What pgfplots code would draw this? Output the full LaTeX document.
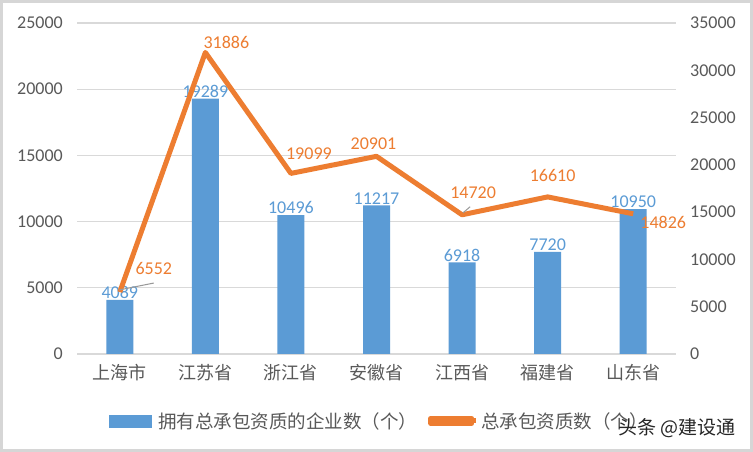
\documentclass[border=0pt]{standalone}
\usepackage{pgfplots}
\pgfplotsset{compat=1.18}
\usepackage{pgfplotstable}
\usepackage{fontspec}
\setmainfont{Carlito}
\newfontfamily\cjk{Noto Sans CJK SC}
\definecolor{barblue}{HTML}{5B9BD5}
\definecolor{lineorange}{HTML}{ED7D31}
\definecolor{gridgray}{HTML}{D9D9D9}
\definecolor{textgray}{HTML}{595959}
\definecolor{framegray}{HTML}{D6D6D6}

\pgfplotstableread{
x bars
0 4089
1 19289
2 10496
3 11217
4 6918
5 7720
6 10950
}\bartable

\pgfplotstableread{
x total dx dy
0 6552 34 24
1 31886 21 10
2 19099 18 20
3 20901 -3 13
4 14720 11 22
5 16610 5 21
6 14826 30 -9
}\linetable

\begin{document}
\begin{tikzpicture}
\path[use as bounding box] (0,0) rectangle (753bp,452bp);
\fill[white] (0,0) rectangle (753bp,452bp);
\draw[framegray, line width=3bp] (1.5bp,1.5bp) rectangle (751.5bp,450.5bp);
\pgfplotsset{
  common/.style={
    scale only axis, width=599bp, height=331bp,
    at={(77bp,98bp)}, anchor=south west,
    xmin=-0.5, xmax=6.5, ymin=0,
    /pgf/number format/.cd, fixed, precision=0, 1000 sep={}, assume math mode=true,
    /pgfplots/.cd,
    scaled y ticks=false, major tick length=0pt,
    tick label style={font=\fontsize{18bp}{20bp}\selectfont, text=textgray},
  }
}
\begin{axis}[common,
  ymax=25000, ytick={0,5000,...,25000},
  xtick={0,...,6},
  xticklabels={上海市,江苏省,浙江省,安徽省,江西省,福建省,山东省},
  xticklabel style={font=\cjk\fontsize{18bp}{18bp}\selectfont, text=textgray, inner sep=0pt, anchor=north, yshift=-10bp},
  yticklabel style={anchor=east, inner sep=0pt, xshift=-14bp},
  axis x line*=bottom, axis y line*=left,
  x axis line style={gridgray, line width=1.3bp},
  y axis line style={draw=none},
  ymajorgrids, grid style={gridgray, line width=1.3bp},
]
\addplot[ybar, bar width=27bp, fill=barblue, draw=none,
  nodes near coords,
  every node near coord/.append style={anchor=south, inner sep=1bp, font=\fontsize{18bp}{20bp}\selectfont, text=barblue}]
  table[x=x, y=bars] {\bartable};
\end{axis}
\begin{axis}[common,
  ymax=35000, ytick={0,5000,...,35000},
  axis x line=none, axis y line*=right,
  y axis line style={draw=none},
  yticklabel style={anchor=west, inner sep=0pt, xshift=14bp},
  legend style={at={(axis description cs:0.505,-0.202)}, anchor=center, draw=none, fill=none,
    legend columns=2, font=\cjk\fontsize{18.5bp}{18.5bp}\selectfont, text=textgray,
    /tikz/every odd column/.append style={column sep=5bp},
    /tikz/every even column/.append style={column sep=9bp}},
  legend cell align=left,
]
\addlegendimage{legend image code/.code={\fill[barblue] (0bp,-6bp) rectangle (42bp,6bp);}}
\addlegendentry{拥有总承包资质的企业数（个）}
\addplot[lineorange, line width=5bp, line join=round, mark=none,
  legend image code/.code={\path (0bp,-2.5bp) rectangle (41bp,2.5bp); \draw[overlay, lineorange, line width=5bp] (0bp,0bp) -- (45bp,0bp);},
  nodes near coords,
  visualization depends on={\thisrow{dx}\as\dx},
  visualization depends on={\thisrow{dy}\as\dy},
  every node near coord/.append style={anchor=center, xshift=\dx bp, yshift=\dy bp, inner sep=0pt, font=\fontsize{18bp}{20bp}\selectfont, text=lineorange}]
  table[x=x, y=total] {\linetable};
\addlegendentry{总承包资质数（个）}
\draw[gray!80, line width=1bp] ([xshift=-1bp,yshift=2bp]axis cs:0,6552) -- ++(35bp,7bp);
\draw[gray!80, line width=1bp] ([xshift=1bp,yshift=2bp]axis cs:4,14720) -- ++(7bp,6bp);
\end{axis}
\node[font=\cjk\fontsize{19bp}{19bp}\selectfont, text=black!85, anchor=east] at (739bp,24bp) {头条 @建设通};
\end{tikzpicture}
\end{document}
